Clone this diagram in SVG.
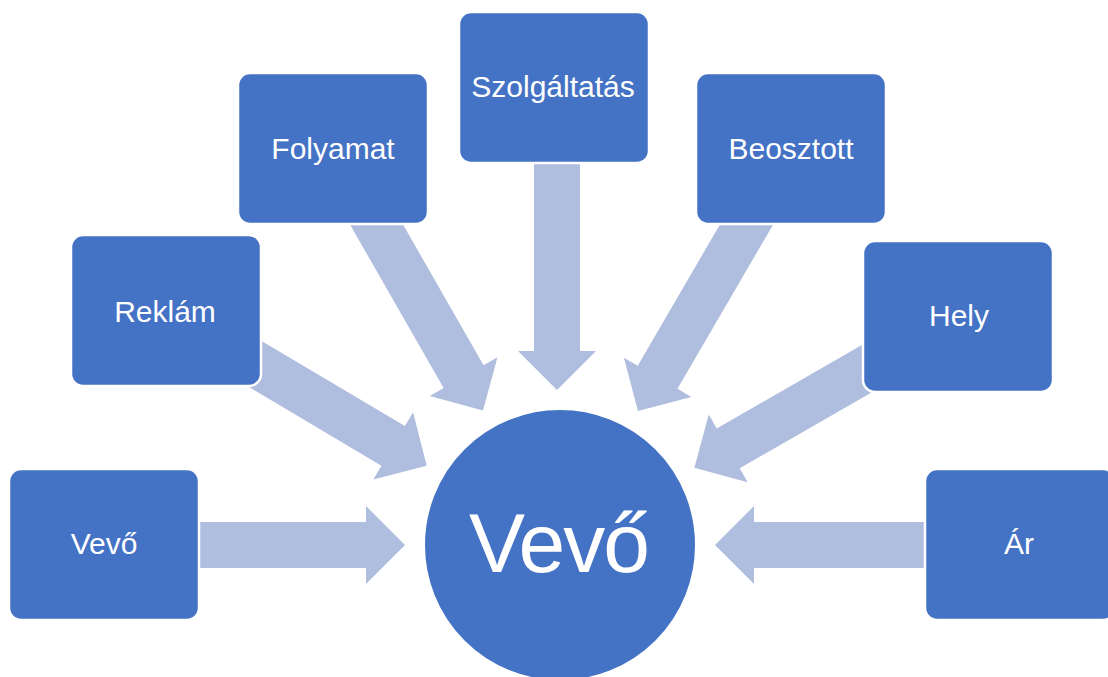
<svg xmlns="http://www.w3.org/2000/svg" width="1108" height="677" viewBox="0 0 1108 677">
  <style>
    .arrow { fill: #AFBDDF; }
    .box { fill: #4472C4; stroke: #FFFFFF; stroke-width: 2.5; }
    .lbl { fill: #FFFFFF; font-family: "Liberation Sans", Arial, sans-serif; font-size: 30px; text-anchor: middle; }
    .big { fill: #FFFFFF; font-family: "Liberation Sans", Arial, sans-serif; font-size: 84px; text-anchor: middle; }
  </style>
  <defs>
    <polygon id="arr" points="-300,-23 -39,-23 -39,-39 0,0 -39,39 -39,23 -300,23"/>
  </defs>
  <rect width="1108" height="677" fill="#FFFFFF"/>
  <g id="connectors">
    <use href="#arr" class="arrow" transform="translate(405,545)"/>
    <use href="#arr" class="arrow" transform="translate(426.7,465.8) rotate(30.7)"/>
    <use href="#arr" class="arrow" transform="translate(483,410.5) rotate(60.2)"/>
    <use href="#arr" class="arrow" transform="translate(557,390) rotate(90)"/>
    <use href="#arr" class="arrow" transform="translate(638,411) rotate(120.2)"/>
    <use href="#arr" class="arrow" transform="translate(694.4,467.8) rotate(150.1)"/>
    <use href="#arr" class="arrow" transform="translate(715,545) rotate(180)"/>
  </g>
  <g id="node-vevo-left">
    <rect class="box" x="9" y="469" width="190" height="151" rx="12"/>
    <text class="lbl" x="104" y="554">Vevő</text>
  </g>
  <g id="node-reklam">
    <rect class="box" x="71" y="235" width="190" height="151" rx="12"/>
    <text class="lbl" x="165" y="322">Reklám</text>
  </g>
  <g id="node-folyamat">
    <rect class="box" x="238" y="73" width="190" height="151" rx="12"/>
    <text class="lbl" x="333" y="159">Folyamat</text>
  </g>
  <g id="node-szolgaltatas">
    <rect class="box" x="459" y="12" width="190" height="151" rx="12"/>
    <text class="lbl" x="553" y="97">Szolgáltatás</text>
  </g>
  <g id="node-beosztott">
    <rect class="box" x="696" y="73" width="190" height="151" rx="12"/>
    <text class="lbl" x="791" y="159">Beosztott</text>
  </g>
  <g id="node-hely">
    <rect class="box" x="863" y="241" width="190" height="151" rx="12"/>
    <text class="lbl" x="959" y="326">Hely</text>
  </g>
  <g id="node-ar">
    <rect class="box" x="925" y="469" width="190" height="151" rx="12"/>
    <text class="lbl" x="1019" y="554">Ár</text>
  </g>
  <g id="node-vevo-center">
    <circle cx="560" cy="545" r="136" fill="#4472C4" stroke="#FFFFFF" stroke-width="2"/>
    <text class="big" x="559.5" y="572" textLength="181">Vevő</text>
  </g>
</svg>
